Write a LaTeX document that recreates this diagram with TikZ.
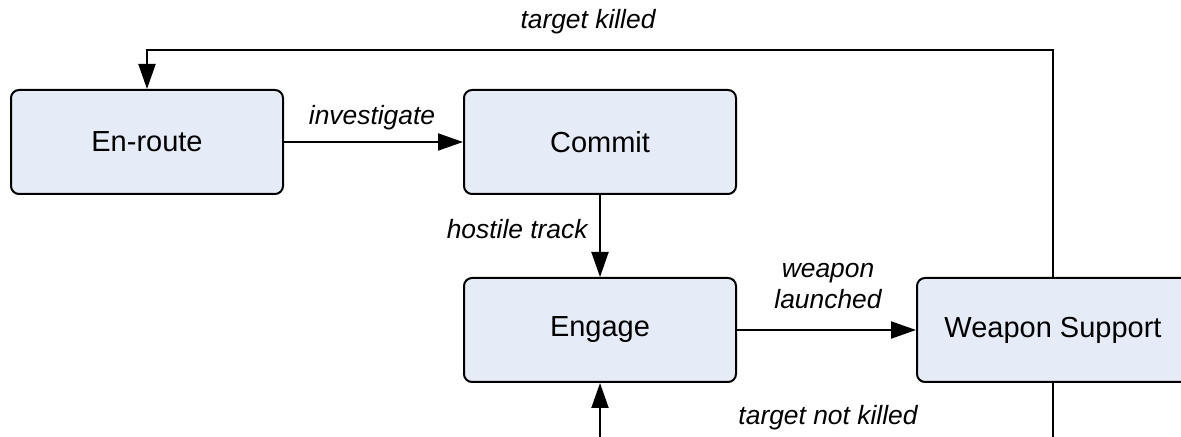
\documentclass[tikz,border=0pt]{standalone}
\usepackage{fontspec}
\setmainfont{Liberation Sans}
\usetikzlibrary{arrows.meta}
\definecolor{boxfill}{HTML}{E6ECF7}
\tikzset{
  state/.style={draw=black, line width=1pt, fill=boxfill, rounded corners=4pt,
    minimum width=136pt, minimum height=52pt, inner sep=0pt,
    font=\fontsize{14.5}{17}\selectfont},
  conn/.style={line width=1pt, -{Triangle[length=12.5pt,width=8.5pt]}},
  plain/.style={line width=1pt},
  lbl/.style={font=\fontsize{13.2}{15.5}\selectfont\itshape, inner sep=0pt, align=center}
}
\begin{document}
\begin{tikzpicture}[x=0.5pt,y=-0.5pt]
\useasboundingbox (0,0) rectangle (1181,437);
\node[state] (enroute) at (147,142) {En-route};
\node[state] (commit) at (600,142) {Commit};
\node[state] (engage) at (600,330) {Engage};
\node[state] (ws) at (1053,330) {Weapon Support};
\coordinate (tl) at (147,50);
\coordinate (tr) at (1053,50);
\coordinate (bengage) at (600,437);
\coordinate (bws) at (1053,437);
\draw[conn] (enroute) -- (commit);
\draw[conn] (commit) -- (engage);
\draw[conn] (engage) -- (ws);
\draw[conn] (ws.north) -- (tr) -- (tl) -- (enroute.north);
\draw[conn] (bengage) -- (engage.south);
\draw[plain] (ws.south) -- (bws);
\node[lbl] (l1) at (372,118) {investigate};
\node[lbl, anchor=east] (l2) at (588,229) {hostile track};
\node[lbl] (l3) at (828,286) {weapon\\launched};
\node[lbl] (l4) at (588,22) {target killed};
\node[lbl] (l5) at (828,418) {target not killed};
\end{tikzpicture}
\end{document}
